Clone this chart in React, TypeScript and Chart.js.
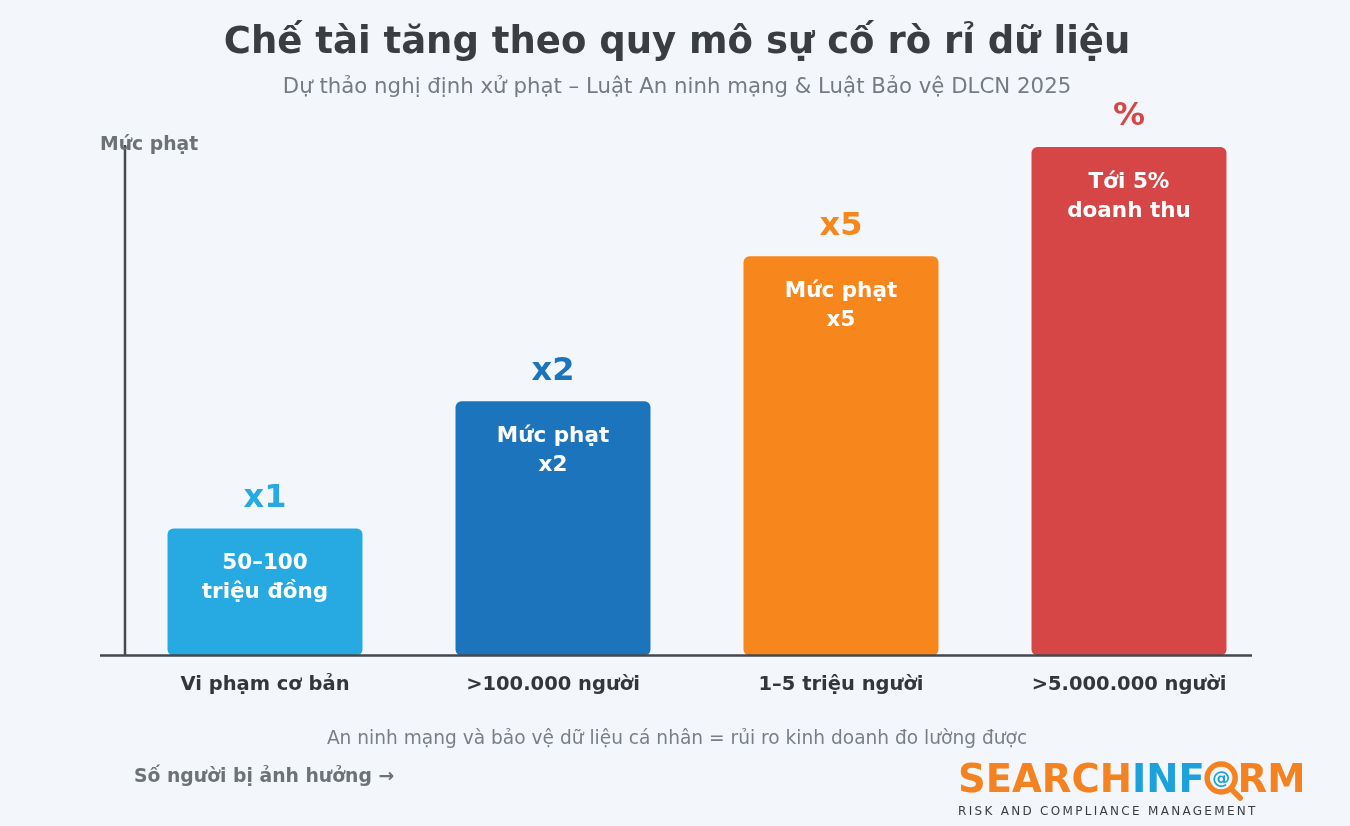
import React, { useEffect, useRef } from "react";
import { Chart, registerables } from "chart.js";

Chart.register(...registerables);

const categories = ["Vi phạm cơ bản", ">100.000 người", "1–5 triệu người", ">5.000.000 người"];
const fineLevels = [25, 50, 78.5, 100];
const topLabels = ["x1", "x2", "x5", "%"];
const innerLines = [
  ["50–100", "triệu đồng"],
  ["Mức phạt", "x2"],
  ["Mức phạt", "x5"],
  ["Tới 5%", "doanh thu"],
];
const barColors = ["#27a9e1", "#1c75bc", "#f7861c", "#d64646"];
const topLabelColors = ["#27a9e1", "#1c75bc", "#f7861c", "#d64646"];

const TITLE = "Chế tài tăng theo quy mô sự cố rò rỉ dữ liệu";
const SUBTITLE = "Dự thảo nghị định xử phạt – Luật An ninh mạng & Luật Bảo vệ DLCN 2025";
const Y_TITLE = "Mức phạt";
const X_TITLE = "Số người bị ảnh hưởng →";
const FOOTER = "An ninh mạng và bảo vệ dữ liệu cá nhân = rủi ro kinh doanh đo lường được";

const FONT = "'DejaVu Sans', sans-serif";

const decorPlugin = {
  id: "decor",
  afterDatasetsDraw(chart: any) {
    const ctx: CanvasRenderingContext2D = chart.ctx;
    const meta = chart.getDatasetMeta(0);
    const area = chart.chartArea;
    ctx.save();
    // axes
    ctx.strokeStyle = "#45494d";
    ctx.lineWidth = 2.5;
    ctx.beginPath();
    ctx.moveTo(125, 145);
    ctx.lineTo(125, area.bottom);
    ctx.moveTo(100, area.bottom);
    ctx.lineTo(1252, area.bottom);
    ctx.stroke();

    // bar labels
    ctx.textAlign = "center";
    ctx.textBaseline = "middle";
    meta.data.forEach((bar: any, i: number) => {
      ctx.fillStyle = topLabelColors[i];
      ctx.font = `bold 32px ${FONT}`;
      ctx.fillText(topLabels[i], bar.x, bar.y - 30);
      ctx.fillStyle = "#ffffff";
      ctx.font = `bold 21.5px ${FONT}`;
      innerLines[i].forEach((t, j) => {
        ctx.fillText(t, bar.x, bar.y + 35 + j * 29);
      });
    });

    // titles
    ctx.fillStyle = "#3a3e43";
    ctx.font = `bold 37px ${FONT}`;
    ctx.fillText(TITLE, 677, 43);
    ctx.fillStyle = "#767b81";
    ctx.font = `21.3px ${FONT}`;
    ctx.fillText(SUBTITLE, 677, 87);

    ctx.fillStyle = "#7a7f85";
    ctx.font = `18.6px ${FONT}`;
    ctx.fillText(FOOTER, 677, 739);

    ctx.textAlign = "left";
    ctx.fillStyle = "#6d7277";
    ctx.font = `bold 18.8px ${FONT}`;
    ctx.fillText(Y_TITLE, 100, 145);
    ctx.fillText(X_TITLE, 134, 777);

    // logo
    ctx.textBaseline = "alphabetic";
    ctx.font = `bold 38.5px ${FONT}`;
    let lx = 958;
    const ly = 792;
    const orange = "#f58220";
    const blue = "#1ba1dc";
    ctx.fillStyle = orange;
    ctx.fillText("SEARCH", lx, ly);
    lx += ctx.measureText("SEARCH").width;
    ctx.fillStyle = blue;
    ctx.fillText("INF", lx, ly);
    lx += ctx.measureText("INF").width;
    const oW = ctx.measureText("O").width;
    const cx = lx + oW / 2;
    const cy = ly - 14;
    ctx.strokeStyle = orange;
    ctx.lineWidth = 5.5;
    ctx.beginPath();
    ctx.arc(cx, cy, 14, 0, Math.PI * 2);
    ctx.stroke();
    ctx.lineCap = "round";
    ctx.beginPath();
    ctx.moveTo(cx + 10, cy + 11);
    ctx.lineTo(cx + 19, cy + 20);
    ctx.stroke();
    ctx.fillStyle = blue;
    ctx.textAlign = "center";
    ctx.textBaseline = "middle";
    ctx.font = `bold 18px ${FONT}`;
    ctx.fillText("@", cx, cy + 1);
    ctx.textAlign = "left";
    ctx.textBaseline = "alphabetic";
    ctx.font = `bold 38.5px ${FONT}`;
    lx += oW;
    ctx.fillStyle = orange;
    ctx.fillText("RM", lx, ly);

    ctx.fillStyle = "#3a3e43";
    ctx.font = `12px ${FONT}`;
    (ctx as any).letterSpacing = "2.3px";
    ctx.textBaseline = "middle";
    ctx.fillText("RISK AND COMPLIANCE MANAGEMENT", 958, 812);
    (ctx as any).letterSpacing = "0px";
    ctx.restore();
  },
};

export default function App() {
  const ref = useRef<HTMLCanvasElement | null>(null);
  useEffect(() => {
    if (!ref.current) return;
    const chart = new Chart(ref.current, {
      type: "bar",
      data: {
        labels: categories,
        datasets: [
          {
            data: fineLevels,
            backgroundColor: barColors,
            borderRadius: 6,
            borderSkipped: false,
            categoryPercentage: 0.677,
            barPercentage: 1,
          },
        ],
      },
      options: {
        animation: false,
        responsive: false,
        maintainAspectRatio: false,
        layout: { padding: { left: 121, right: 77, top: 147, bottom: 119 } },
        plugins: {
          legend: { display: false },
          tooltip: { enabled: false },
          title: { display: false },
        },
        scales: {
          x: {
            grid: { display: false },
            border: { display: false },
            ticks: {
              color: "#33373b",
              font: { family: FONT, size: 19.5, weight: "bold" },
              padding: 10,
            },
          },
          y: {
            display: false,
            min: 0,
            max: 100,
          },
        },
      },
      plugins: [decorPlugin],
    });
    return () => chart.destroy();
  }, []);
  return (
    <div style={{ position: "absolute", left: 0, top: 0, width: 1350, height: 826, background: "#f3f7fb" }}>
      <canvas ref={ref} width={1350} height={826} style={{ display: "block" }} />
    </div>
  );
}
